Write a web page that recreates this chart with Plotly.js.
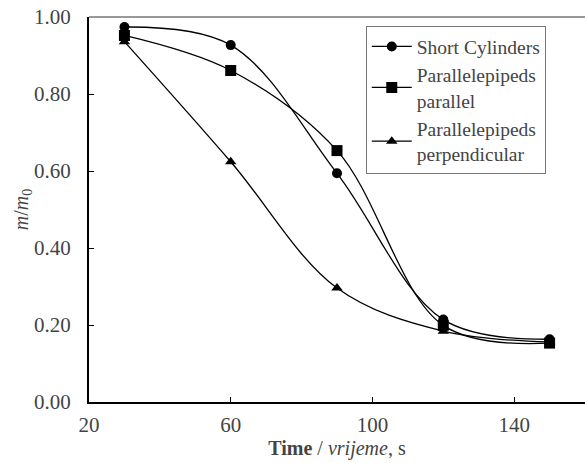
<!DOCTYPE html>
<html>
<head>
<meta charset="utf-8">
<script src="https://cdn.plot.ly/plotly-3.0.1.min.js"></script>
<style>html,body{margin:0;padding:0;background:#fff;}#chart{width:585px;height:463px;}</style>
</head>
<body>
<div id="chart"></div>
<script>
const time = [30, 60, 90, 120, 150];
const shortCylinders = [0.974, 0.927, 0.594, 0.214, 0.163];
const parallelepipedsParallel = [0.952, 0.861, 0.653, 0.199, 0.153];
const parallelepipedsPerpendicular = [0.936, 0.624, 0.296, 0.184, 0.156];
const seriesNames = ['Short Cylinders', 'Parallelepipeds<br>parallel', 'Parallelepipeds<br>perpendicular'];
const symbols = ['circle', 'square', 'triangle-up'];
const sizes = [10, 11, 10];
const series = [shortCylinders, parallelepipedsParallel, parallelepipedsPerpendicular];

const traces = series.map((ys, i) => ({
  x: time, y: ys, name: seriesNames[i], type: 'scatter', mode: 'lines+markers',
  line: {color: '#000', width: 1.3, shape: 'spline', smoothing: 1},
  marker: {symbol: symbols[i], size: sizes[i], color: '#000'}
}));

const fam = 'Liberation Serif, Times New Roman, serif';
const font = {family: fam, size: 21, color: '#444'};
const titleFont = {family: fam, size: 20, color: '#444'};

const layout = {
  width: 585, height: 463,
  margin: {l: 89, r: 0, t: 17, b: 61},
  paper_bgcolor: '#fff', plot_bgcolor: '#fff',
  font: font,
  showlegend: true,
  legend: {x: 0.558, y: 0.976, xanchor: 'left', yanchor: 'top', bordercolor: '#777', borderwidth: 1, bgcolor: '#fff', font: {family: fam, size: 19.5, color: '#444'}, tracegroupgap: 0, itemwidth: 40},
  xaxis: {
    range: [20, 160], tick0: 20, dtick: 40, showgrid: false, zeroline: false,
    showline: true, linecolor: '#000', linewidth: 2,
    ticks: 'inside', ticklen: 5, tickcolor: '#000', tickwidth: 1,
    tickfont: font, ticklabelstandoff: 3,
    title: {text: '<b>Time</b> / <i>vrijeme</i>, s', font: titleFont, standoff: 2}
  },
  yaxis: {
    range: [0, 1], dtick: 0.2, tickformat: '.2f', showgrid: false, zeroline: false,
    showline: true, linecolor: '#000', linewidth: 2,
    ticks: 'inside', ticklen: 5, tickcolor: '#000', tickwidth: 1,
    tickfont: font, ticklabelstandoff: 12,
    title: {text: '<i>m</i>/<i>m</i><sub>0</sub>', font: titleFont, standoff: 0}
  },
  shapes: [{type: 'line', xref: 'paper', yref: 'paper', x0: 0, x1: 1, y0: 1, y1: 1, line: {color: '#333', width: 1}}]
};

Plotly.newPlot('chart', traces, layout, {displayModeBar: false, staticPlot: true});
</script>
</body>
</html>
